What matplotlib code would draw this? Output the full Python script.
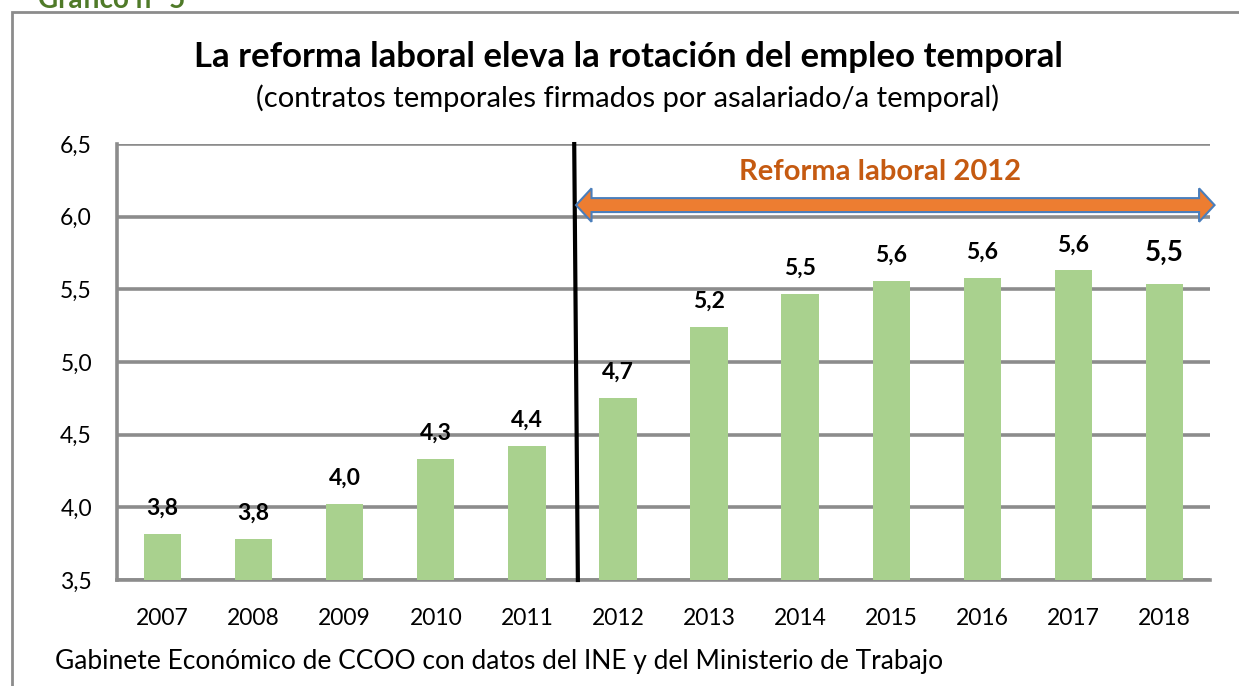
#!/usr/bin/env python3
"""Contratos temporales firmados por asalariado/a temporal, 2007-2018."""

import matplotlib
matplotlib.use("Agg")
import matplotlib.pyplot as plt
from matplotlib.patches import Polygon, Rectangle
import numpy as np

plt.rcParams["font.family"] = ["Lato", "DejaVu Sans"]

years = ["2007", "2008", "2009", "2010", "2011", "2012",
         "2013", "2014", "2015", "2016", "2017", "2018"]
ratio = [3.82, 3.78, 4.02, 4.33, 4.42, 4.75, 5.24, 5.47, 5.56, 5.58, 5.63, 5.54]
bar_labels = ["3,8", "3,8", "4,0", "4,3", "4,4", "4,7",
              "5,2", "5,5", "5,6", "5,6", "5,6", "5,5"]
yticks = [3.5, 4.0, 4.5, 5.0, 5.5, 6.0, 6.5]
ytick_labels = ["3,5", "4,0", "4,5", "5,0", "5,5", "6,0", "6,5"]

GRID = "#8c8c8c"
BAR = "#a9d18e"


def main() -> int:
    fig = plt.figure(figsize=(12.39, 6.86), dpi=100)
    ax = fig.add_axes([0.0944, 0.1545, 0.8822, 0.6355])

    # outer frame of the chart box (cut off at right/bottom)
    fig.patches.append(Rectangle((12 / 1239, -0.1), 1.2, 1 - 12 / 686 + 0.1,
                                 transform=fig.transFigure, fill=False,
                                 edgecolor=GRID, lw=2))
    fig.text(38 / 1239, 1.0, "Gráfico nº 5", color="#4f7a28", fontsize=20,
             fontweight="bold", va="center", ha="left")

    x = np.arange(len(years))
    ax.bar(x, ratio, width=0.41, color=BAR, zorder=3)

    ax.set_xlim(-0.5, len(years) - 0.5)
    ax.set_ylim(3.5, 6.5)
    ax.set_yticks(yticks)
    ax.set_yticklabels(ytick_labels)
    ax.set_xticks(x)
    ax.set_xticklabels(years)
    ax.tick_params(axis="both", length=0, labelsize=16.5)
    ax.tick_params(axis="y", pad=18)
    ax.tick_params(axis="x", pad=20)
    ax.grid(axis="y", color=GRID, lw=2.6, zorder=0)
    for side in ("top", "right"):
        ax.spines[side].set_visible(False)
    for side in ("left", "bottom"):
        ax.spines[side].set_color(GRID)
        ax.spines[side].set_linewidth(2.6)

    for i, (v, lab) in enumerate(zip(ratio, bar_labels)):
        big = i == len(ratio) - 1
        ax.annotate(lab, xy=(i, v), xytext=(0, 13 if big else 11),
                    textcoords="offset points", ha="center", va="bottom",
                    fontsize=20 if big else 16.5, fontweight="bold")

    # reform marker
    ax.plot([4.52, 4.56], [6.5, 3.5], color="black", lw=3, zorder=5,
            clip_on=False)

    # double-headed arrow
    x0, x1, yc = 4.54, 11.55, 6.08
    bh, hh, hl = 0.048, 0.115, 0.17
    pts = [(x0, yc), (x0 + hl, yc + hh), (x0 + hl, yc + bh), (x1 - hl, yc + bh),
           (x1 - hl, yc + hh), (x1, yc), (x1 - hl, yc - hh), (x1 - hl, yc - bh),
           (x0 + hl, yc - bh), (x0 + hl, yc - hh)]
    ax.add_patch(Polygon(pts, closed=True, facecolor="#ed7d31",
                         edgecolor="#4a7ebb", lw=1.5, zorder=6, clip_on=False))
    ax.text(7.88, 6.31, "Reforma laboral 2012", color="#c55a11", fontsize=21,
            fontweight="bold", ha="center", va="center")

    fig.text(628 / 1239, 1 - 57 / 686,
             "La reforma laboral eleva la rotación del empleo temporal",
             ha="center", va="center", fontsize=25, fontweight="bold")
    fig.text(628 / 1239, 1 - 98 / 686,
             "(contratos temporales firmados por asalariado/a temporal)",
             ha="center", va="center", fontsize=21)
    fig.text(55 / 1239, 1 - 662 / 686,
             "Gabinete Económico de CCOO con datos del INE y del Ministerio de Trabajo",
             ha="left", va="center", fontsize=19)

    fig.savefig("out.png", dpi=100)
    plt.close(fig)
    return 0


if __name__ == "__main__":
    raise SystemExit(main())
